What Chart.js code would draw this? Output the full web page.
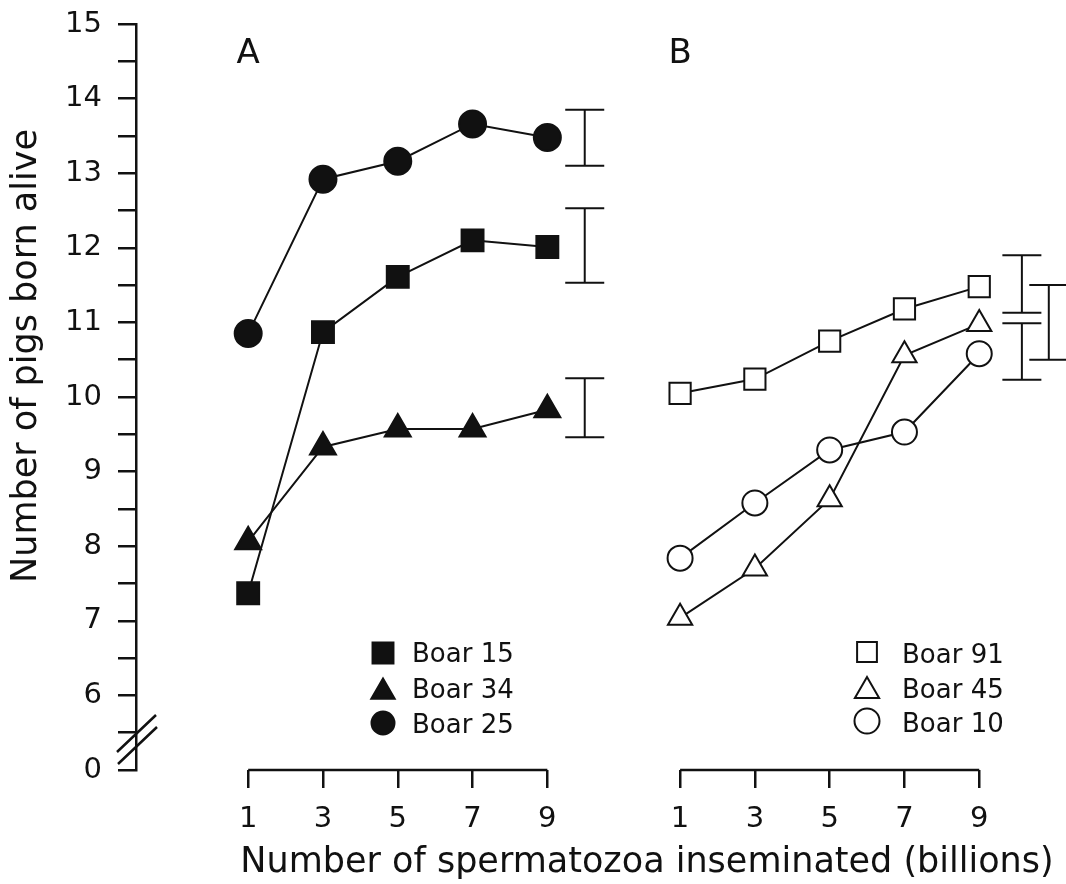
<!DOCTYPE html>
<html>
<head>
<meta charset="utf-8">
<script src="https://cdn.jsdelivr.net/npm/chart.js@4.4.1/dist/chart.umd.min.js"></script>
<style>
  html, body { margin: 0; padding: 0; background: #fff; }
  #wrap { position: relative; width: 1066px; height: 884px; }
  canvas { display: block; }
</style>
</head>
<body>
<div id="wrap"><canvas id="chart" width="1066" height="884"></canvas></div>
<script>
// doses (billions of spermatozoa)
const doses = [1, 3, 5, 7, 9];
const doseLabels = ["1", "3", "5", "7", "9"];

// panel A
const boar15 = [7.37, 10.87, 11.61, 12.10, 12.01];
const boar34 = [8.06, 9.33, 9.57, 9.57, 9.83];
const boar25 = [10.85, 12.92, 13.16, 13.66, 13.48];

// panel B
const boar91 = [10.05, 10.24, 10.75, 11.18, 11.48];
const boar45 = [7.04, 7.70, 8.63, 10.56, 10.98];
const boar10 = [7.84, 8.58, 9.29, 9.53, 10.58];

// SE bars
const errXA = [10, 10, 10];
const errLowA = [13.10, 11.53, 9.46];
const errHighA = [13.85, 12.53, 10.25];
const errXB = [10.14, 10.14, 10.86];
const errLowB = [11.13, 10.23, 10.50];
const errHighB = [11.90, 10.99, 11.50];

// y axis: bottom tick stands for 0 (axis is broken)
const yTickValues = [5, 6, 7, 8, 9, 10, 11, 12, 13, 14, 15];
const yTickLabels = ["0", "6", "7", "8", "9", "10", "11", "12", "13", "14", "15"];

const ink = "#111";
const font = '"DejaVu Sans", sans-serif';
const B_SHIFT = 11.55; // panel B sits to the right on the same x scale

function series(label, ys, shift, style, filled, radius) {
  return {
    label: label,
    data: doses.map((d, i) => ({ x: d + shift, y: ys[i] })),
    borderColor: ink,
    borderWidth: 2,
    pointStyle: style,
    pointRadius: radius,
    pointBackgroundColor: filled ? ink : "#fff",
    pointBorderColor: ink,
    pointBorderWidth: 2,
    clip: false
  };
}

function errBar(x, lo, hi) {
  return {
    label: "",
    data: [{ x: x, y: lo }, { x: x, y: hi }],
    borderColor: ink,
    borderWidth: 2,
    pointStyle: "line",
    pointRadius: 19.5,
    pointBorderColor: ink,
    pointBorderWidth: 2,
    clip: false
  };
}

function axisLine(shift) {
  return {
    label: "",
    data: [{ x: doses[0] + shift, y: 5 }, { x: doses[doses.length - 1] + shift, y: 5 }],
    borderColor: ink,
    borderWidth: 2.5,
    pointRadius: 0,
    clip: false
  };
}

const datasets = [
  series("Boar 15", boar15, 0, "rect", true, 15.5),
  series("Boar 34", boar34, 0, "triangle", true, 15),
  series("Boar 25", boar25, 0, "circle", true, 13.5),
  series("Boar 91", boar91, B_SHIFT, "rect", false, 15),
  series("Boar 45", boar45, B_SHIFT, "triangle", false, 14),
  series("Boar 10", boar10, B_SHIFT, "circle", false, 12.5),
  axisLine(0),
  axisLine(B_SHIFT)
];
errXA.forEach((x, i) => datasets.push(errBar(x, errLowA[i], errHighA[i])));
errXB.forEach((x, i) => datasets.push(errBar(x + B_SHIFT, errLowB[i], errHighB[i])));

const legendA = [
  { text: "Boar 15", style: "rect", filled: true, r: 14.8, y: 653, base: 662 },
  { text: "Boar 34", style: "triangle", filled: true, r: 13.5, y: 692, base: 698 },
  { text: "Boar 25", style: "circle", filled: true, r: 11.5, y: 723, base: 733 }
];
const legendB = [
  { text: "Boar 91", style: "rect", filled: false, r: 14, y: 652, base: 663 },
  { text: "Boar 45", style: "triangle", filled: false, r: 14, y: 691, base: 698 },
  { text: "Boar 10", style: "circle", filled: false, r: 12.5, y: 721, base: 732 }
];

const decor = {
  id: "decor",
  afterDraw(chart) {
    const ctx = chart.ctx;
    const xs = chart.scales.x;
    ctx.save();
    ctx.fillStyle = ink;
    ctx.strokeStyle = ink;

    ctx.font = "34px " + font;
    ctx.textAlign = "center";
    ctx.textBaseline = "alphabetic";
    ctx.fillText("A", xs.getPixelForValue(1), 63);
    ctx.fillText("B", xs.getPixelForValue(1 + B_SHIFT), 63);

    ctx.font = "35px " + font;
    ctx.fillText("Number of spermatozoa inseminated (billions)", 647, 872);
    ctx.save();
    ctx.translate(36, 356);
    ctx.rotate(-Math.PI / 2);
    ctx.fillText("Number of pigs born alive", 0, 0);
    ctx.restore();

    // axis break
    ctx.lineWidth = 2.5;
    ctx.beginPath();
    ctx.moveTo(117, 752); ctx.lineTo(156, 715);
    ctx.moveTo(118, 764); ctx.lineTo(157, 727);
    ctx.stroke();

    // legends
    function drawLegend(items, mx, tx) {
      items.forEach(it => {
        ctx.fillStyle = it.filled ? ink : "#fff";
        ctx.strokeStyle = ink;
        ctx.lineWidth = 2;
        Chart.helpers.drawPoint(ctx, { pointStyle: it.style, radius: it.r, rotation: 0, borderWidth: 2 }, mx, it.y);
        ctx.fillStyle = ink;
        ctx.font = "26px " + font;
        ctx.textAlign = "left";
        ctx.fillText(it.text, tx, it.base);
      });
    }
    drawLegend(legendA, 383, 412);
    drawLegend(legendB, 867, 902);
    ctx.restore();
  }
};

function noPad(s) {
  s.paddingLeft = 0;
  s.paddingRight = 0;
  s.paddingTop = 0;
  s.paddingBottom = 0;
}

new Chart(document.getElementById("chart"), {
  type: "line",
  data: { datasets: datasets },
  options: {
    responsive: false,
    animation: false,
    events: [],
    layout: { autoPadding: false, padding: { top: 24, right: 0, bottom: 0, left: 0 } },
    plugins: { legend: { display: false }, tooltip: { enabled: false } },
    scales: {
      x: {
        type: "linear",
        min: -2,
        max: 22.87,
        border: { display: false },
        grid: { drawOnChartArea: false, color: ink, lineWidth: 2.5, tickLength: 18 },
        ticks: {
          color: ink,
          font: { family: font, size: 29 },
          padding: 14,
          maxRotation: 0,
          callback: v => {
            const d = v > 10.5 ? v - B_SHIFT : v;
            const i = doses.findIndex(x => Math.abs(x - d) < 1e-6);
            return i >= 0 ? doseLabels[i] : "";
          }
        },
        afterBuildTicks: s => {
          s.ticks = doses.map(v => ({ value: v })).concat(doses.map(v => ({ value: v + B_SHIFT })));
        },
        afterFit: s => { s.height = 114; noPad(s); }
      },
      y: {
        type: "linear",
        min: 5,
        max: 15,
        border: { display: true, color: ink, width: 2.5 },
        grid: { drawOnChartArea: false, color: ink, lineWidth: 2.5, tickLength: 18 },
        ticks: {
          stepSize: 0.5,
          autoSkip: false,
          color: ink,
          font: { family: font, size: 29 },
          padding: 16,
          callback: v => {
            const i = yTickValues.indexOf(v);
            return i >= 0 ? yTickLabels[i] : "";
          }
        },
        afterFit: s => { s.width = 136; noPad(s); }
      }
    }
  },
  plugins: [decor]
});
</script>
</body>
</html>
